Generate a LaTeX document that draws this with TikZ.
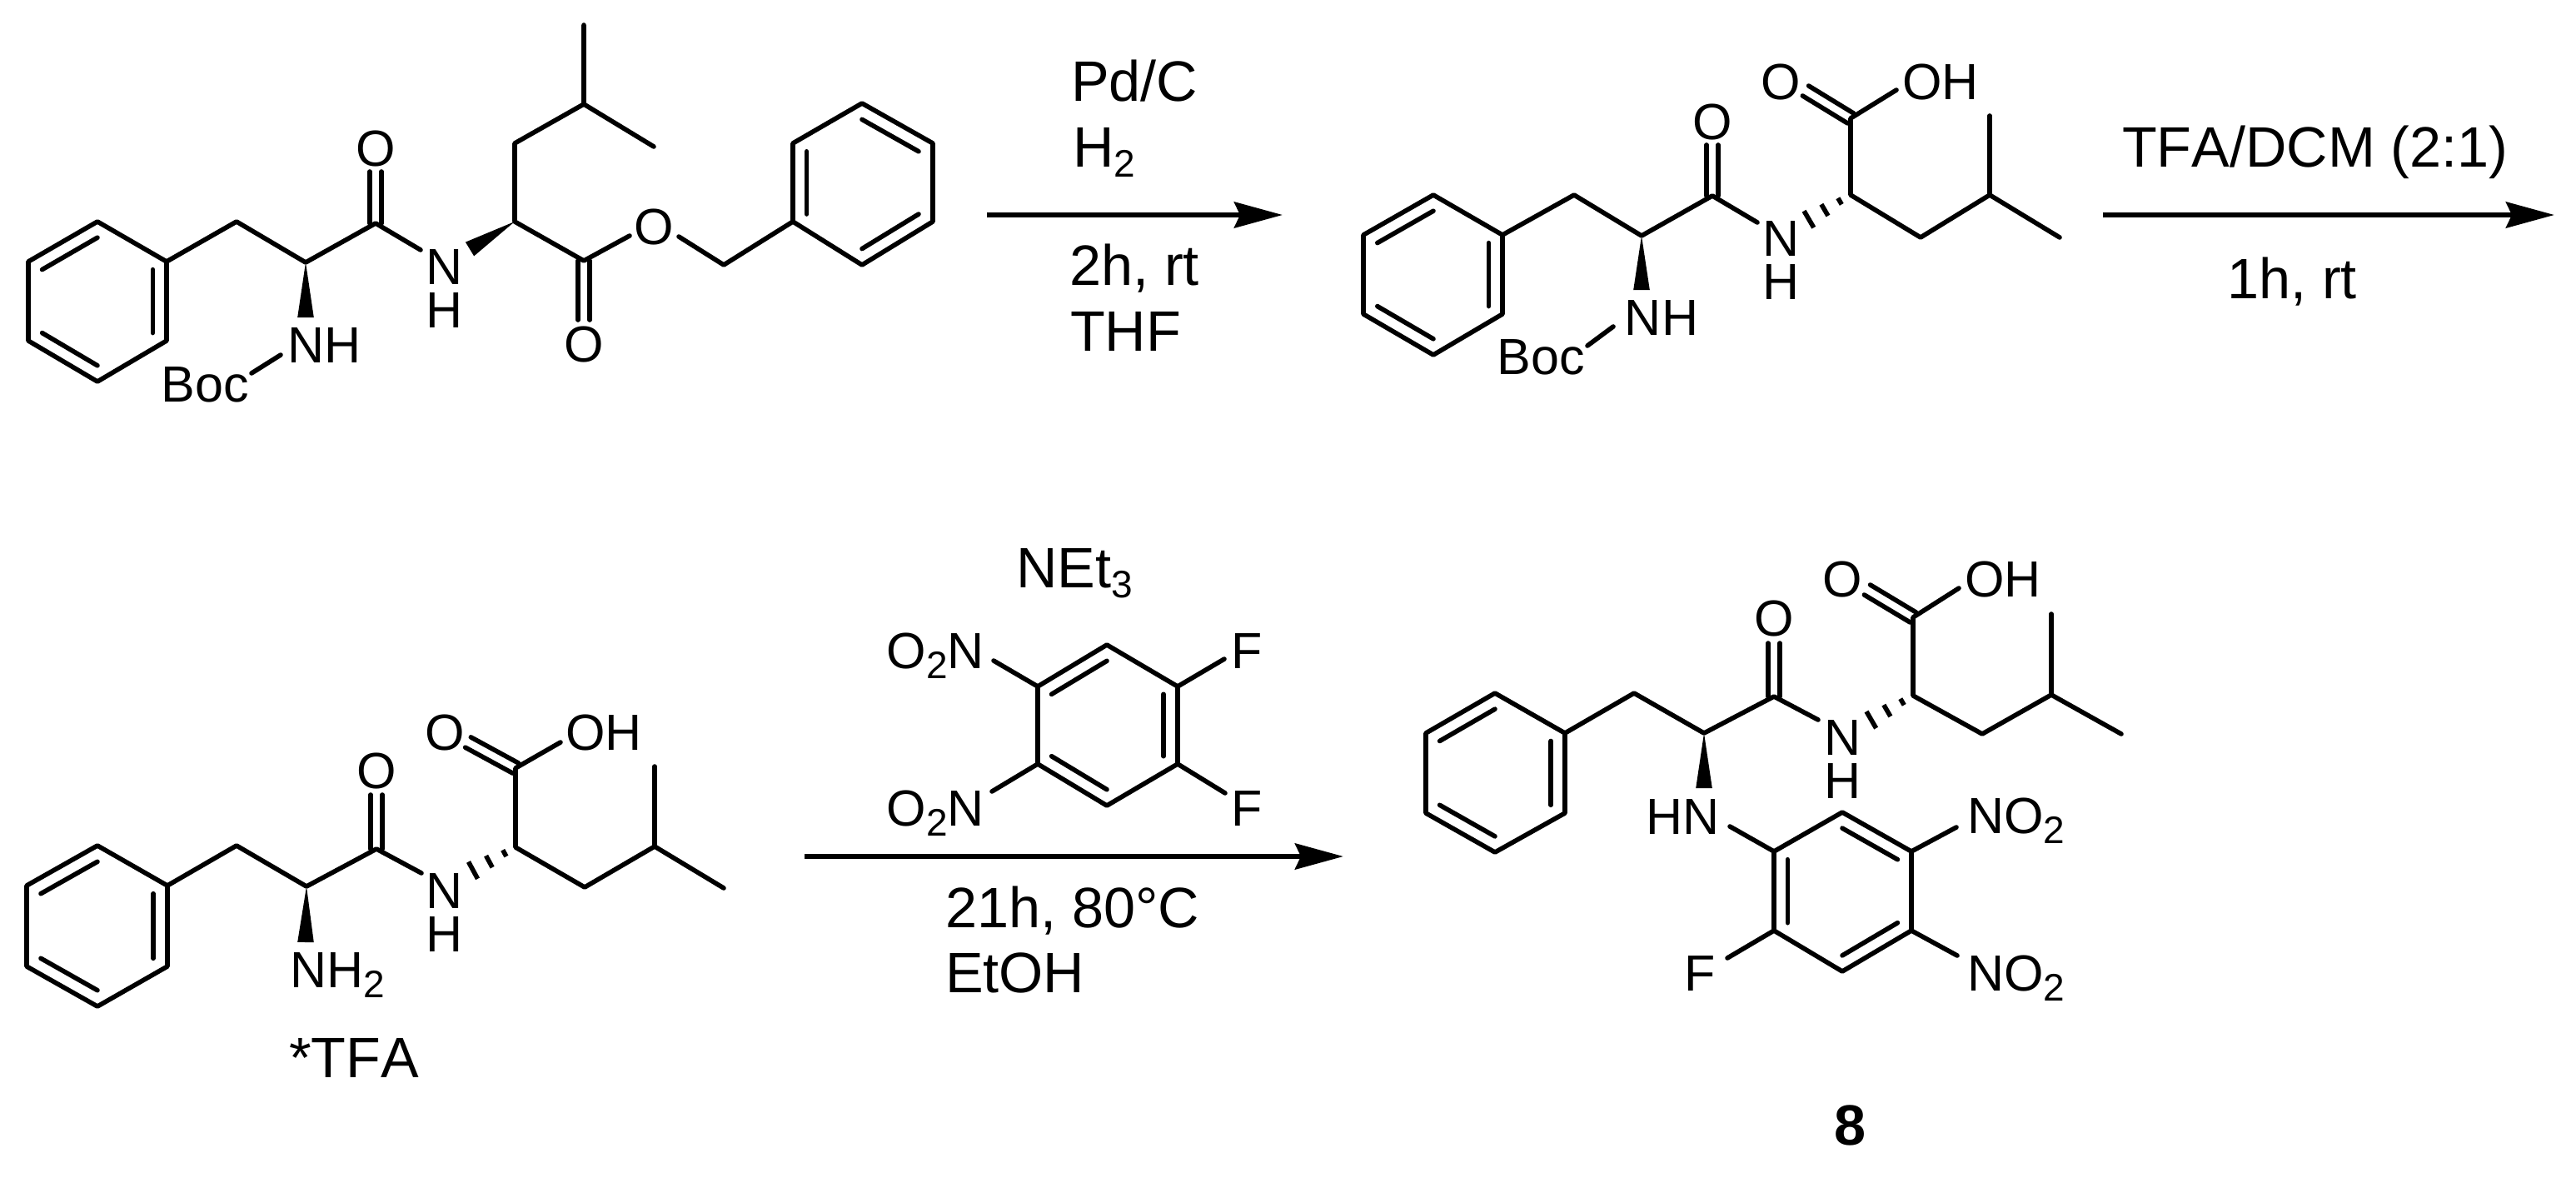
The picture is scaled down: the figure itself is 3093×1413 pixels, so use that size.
\documentclass[tikz,border=0pt]{standalone}
\usepackage{fontspec}
\setmainfont[Kerning=Off]{Liberation Sans}
\usetikzlibrary{calc,arrows.meta}
\newcommand\molfont{\fontsize{15.25pt}{13pt}\selectfont}
\newcommand\reafont{\fontsize{17.1pt}{18pt}\selectfont}
\newcommand\chsub[1]{\raisebox{-3.2pt}{\fontsize{11.5pt}{12pt}\selectfont #1}}
% bonds
\newcommand\bd[2]{\draw[bond] (#1) -- (#2);}
\newcommand\cdb[2]{\draw[bond] ($(#1)!1.75pt!90:(#2)$) -- ($(#2)!1.75pt!-90:(#1)$);
  \draw[bond] ($(#1)!1.75pt!-90:(#2)$) -- ($(#2)!1.75pt!90:(#1)$);}
\newcommand\rdb[3]{\draw[bond] ($(#1)!.8!(#2)$) -- ($(#1)!.8!(#3)$);}
\newcommand\wdg[2]{\fill ($(#2)!2.45pt!90:(#1)$) -- (#1) -- ($(#2)!2.45pt!-90:(#1)$) -- cycle;}
\newcommand\hsh[2]{%
  \draw[hashb] ($(#1)!3.75pt!(#2)!1.1pt!90:(#2)$) -- ($(#1)!3.75pt!(#2)!1.1pt!-90:(#2)$);
  \draw[hashb] ($(#1)!9pt!(#2)!2pt!90:(#2)$) -- ($(#1)!9pt!(#2)!2pt!-90:(#2)$);
  \draw[hashb] ($(#1)!14.5pt!(#2)!2.9pt!90:(#2)$) -- ($(#1)!14.5pt!(#2)!2.9pt!-90:(#2)$);}
\tikzset{
  bond/.style={line width=1.4pt,line cap=round,line join=round},
  hashb/.style={line width=1.4pt},
  rxn/.style={line width=1.6pt,-{Stealth[length=14.5pt,width=7.75pt,inset=1.75pt]}},
  atom/.style={inner sep=0pt,outer sep=0pt,anchor=base,font=\molfont},
  atomw/.style={atom,anchor=base west},
  atome/.style={atom,anchor=base east},
  nhstack/.style={atom,align=center},
  rea/.style={inner sep=0pt,outer sep=0pt,anchor=base west,font=\reafont},
}
\begin{document}
\begin{tikzpicture}[x=0.25pt,y=-0.25pt]
\useasboundingbox (0,0) rectangle (3093,1413);

%%% ---------- molecule 1 ----------
\path (117,266) coordinate (at) (34,314) coordinate (alt) (34,409) coordinate (alb)
      (117,458) coordinate (ab) (200,409) coordinate (arb) (200,314) coordinate (art)
      (284,266) coordinate (ach) (367,315) coordinate (aca) (451,268) coordinate (aco)
      (451,206) coordinate (aoe) (505,300) coordinate (ane) (618,266) coordinate (acb)
      (564,299) coordinate (awb) (367,381) coordinate (awa)
      (618,172) coordinate (ac2) (701,125) coordinate (ac3) (701,30) coordinate (am1)
      (785,176) coordinate (am2) (701,313) coordinate (aes) (701,384) coordinate (aeo)
      (756,283) coordinate (aoa) (815,284) coordinate (aob) (869,318) coordinate (abn)
      (952,266) coordinate (bbl) (952,172) coordinate (btl) (1035,124) coordinate (btt)
      (1120,172) coordinate (btr) (1120,266) coordinate (bbr) (1035,318) coordinate (bbb)
      (302,448) coordinate (abo) (337,426) coordinate (abn2);
\coordinate (ac) at ($(at)!.5!(ab)$);
\coordinate (bc) at ($(btt)!.5!(bbb)$);
\draw[bond] (at) -- (alt) -- (alb) -- (ab) -- (arb) -- (art) -- cycle;
\rdb{ac}{at}{alt}\rdb{ac}{art}{arb}\rdb{ac}{alb}{ab}
\draw[bond] (art) -- (ach) -- (aca) -- (aco) -- (ane);
\cdb{aco}{aoe}
\wdg{aca}{awa}\wdg{acb}{awb}
\draw[bond] (am1) -- (ac3) -- (am2);
\draw[bond] (ac3) -- (ac2) -- (acb) -- (aes) -- (aoa);
\cdb{aes}{aeo}
\draw[bond] (aob) -- (abn) -- (bbl);
\draw[bond] (bbl) -- (btl) -- (btt) -- (btr) -- (bbr) -- (bbb) -- cycle;
\rdb{bc}{bbl}{btl}\rdb{bc}{btt}{btr}\rdb{bc}{bbr}{bbb}
\bd{abo}{abn2}
\node[atom] (lao) at (451,199) {O};
\node[nhstack] (lan) at (534,393) {N\\H};
\node[atom] (laoe) at (701,434) {O};
\node[atom] (laoo) at (785,293) {O};
\node[atom] (lanh) at (390,435) {NH};
\node[atom] (laboc) at (246,482) {Boc};

%%% ---------- arrow 1 + reagents ----------
\coordinate (r1a) at (1185,258); \coordinate (r1b) at (1540,258);
\draw[rxn] (r1a) -- (r1b);
\node[rea] (tpd) at (1286,122) {Pd/C};
\node[rea] (th2) at (1288,200) {H\chsub{2}};
\node[rea] (t2h) at (1284,342) {2h, rt};
\node[rea] (tthf) at (1285,421) {THF};

%%% ---------- molecule 2 ----------
\path (1721,234) coordinate (ct) (1637,282) coordinate (clt) (1637,377) coordinate (clb)
      (1721,426) coordinate (cb) (1804,377) coordinate (crb) (1804,282) coordinate (crt)
      (1890,234) coordinate (cch) (1971,283) coordinate (cca) (2056,235) coordinate (cco)
      (2056,174) coordinate (coe) (2110,267) coordinate (cne) (2222,234) coordinate (ccb)
      (2222,142) coordinate (cac) (2168,109) coordinate (cao) (2277,108) coordinate (cah)
      (2306,285) coordinate (cc2) (2389,234) coordinate (cc3) (2389,139) coordinate (cm1)
      (2473,285) coordinate (cm2) (1971,348) coordinate (cwa) (2162,269) coordinate (chs)
      (1906,415) coordinate (cbo) (1937,392) coordinate (cbn);
\coordinate (cc) at ($(ct)!.5!(cb)$);
\draw[bond] (ct) -- (clt) -- (clb) -- (cb) -- (crb) -- (crt) -- cycle;
\rdb{cc}{ct}{clt}\rdb{cc}{crt}{crb}\rdb{cc}{clb}{cb}
\draw[bond] (crt) -- (cch) -- (cca) -- (cco) -- (cne);
\cdb{cco}{coe}
\wdg{cca}{cwa}\hsh{ccb}{chs}
\draw[bond] (cah) -- (cac) -- (ccb) -- (cc2) -- (cc3) -- (cm2);
\draw[bond] (cc3) -- (cm1);
\cdb{cac}{cao}
\bd{cbo}{cbn}
\node[atom] (lco) at (2056,167) {O};
\node[nhstack] (lcn) at (2138,359) {N\\H};
\node[atom] (lcoo) at (2138,119) {O};
\node[atomw] (lcoh) at (2284,119) {OH};
\node[atom] (lcnh) at (1995,402) {NH};
\node[atom] (lcboc) at (1850,449) {Boc};

%%% ---------- arrow 2 + reagents ----------
\coordinate (r2a) at (2525,258); \coordinate (r2b) at (3067,258);
\draw[rxn] (r2a) -- (r2b);
\node[rea] (ttfa) at (2548,200) {TFA/DCM (2:1)};
\node[rea] (t1h) at (2674,358) {1h, rt};

%%% ---------- molecule 3 ----------
\path (117,1015) coordinate (dt) (32,1063) coordinate (dlt) (32,1160) coordinate (dlb)
      (117,1208) coordinate (db) (201,1160) coordinate (drb) (201,1063) coordinate (drt)
      (284,1015) coordinate (dch) (368,1064) coordinate (dca) (452,1019) coordinate (dco)
      (452,954) coordinate (doe) (506,1048) coordinate (dne) (619,1017) coordinate (dcb)
      (619,922) coordinate (dac) (562,891) coordinate (dao) (673,891) coordinate (dah)
      (702,1065) coordinate (dc2) (786,1016) coordinate (dc3) (786,920) coordinate (dm1)
      (869,1066) coordinate (dm2) (367,1131) coordinate (dwa) (560,1049) coordinate (dhs);
\coordinate (dc) at ($(dt)!.5!(db)$);
\draw[bond] (dt) -- (dlt) -- (dlb) -- (db) -- (drb) -- (drt) -- cycle;
\rdb{dc}{dt}{dlt}\rdb{dc}{drt}{drb}\rdb{dc}{dlb}{db}
\draw[bond] (drt) -- (dch) -- (dca) -- (dco) -- (dne);
\cdb{dco}{doe}
\wdg{dca}{dwa}\hsh{dcb}{dhs}
\draw[bond] (dah) -- (dac) -- (dcb) -- (dc2) -- (dc3) -- (dm2);
\draw[bond] (dc3) -- (dm1);
\cdb{dac}{dao}
\node[atom] (ldo) at (452,946) {O};
\node[nhstack] (ldn) at (534,1142) {N\\H};
\node[atom] (ldoo) at (534,900) {O};
\node[atomw] (ldoh) at (679,900) {OH};
\node[atomw] (ldnh) at (348,1185) {NH\chsub{2}};
\node[rea] (ltfa) at (347,1293) {*TFA};

%%% ---------- arrow 3 + reagents ----------
\coordinate (r3a) at (966,1028); \coordinate (r3b) at (1613,1028);
\draw[rxn] (r3a) -- (r3b);
\node[rea] (tnet) at (1220,705) {NEt\chsub{3}};
\path (1329,774) coordinate (et) (1246,824) coordinate (elt) (1246,917) coordinate (elb)
      (1329,967) coordinate (eb) (1414,917) coordinate (erb) (1414,824) coordinate (ert)
      (1193,793) coordinate (eno1) (1191,950) coordinate (eno2)
      (1470,791) coordinate (ef1) (1471,952) coordinate (ef2);
\coordinate (ec) at ($(et)!.5!(eb)$);
\draw[bond] (et) -- (elt) -- (elb) -- (eb) -- (erb) -- (ert) -- cycle;
\rdb{ec}{et}{elt}\rdb{ec}{ert}{erb}\rdb{ec}{elb}{eb}
\bd{elt}{eno1}\bd{elb}{eno2}\bd{ert}{ef1}\bd{erb}{ef2}
\node[atome] (leno1) at (1182,802) {O\chsub{2}N};
\node[atome] (leno2) at (1182,991) {O\chsub{2}N};
\node[atomw] (lef1) at (1478,802) {F};
\node[atomw] (lef2) at (1478,991) {F};
\node[rea] (t21) at (1135,1113) {21h, 80°C};
\node[rea] (tetoh) at (1135,1191) {EtOH};

%%% ---------- molecule 4 ----------
\path (1795,832) coordinate (ft) (1712,880) coordinate (flt) (1712,976) coordinate (flb)
      (1795,1023) coordinate (fb) (1879,976) coordinate (frb) (1879,880) coordinate (frt)
      (1962,832) coordinate (fch) (2046,880) coordinate (fca) (2130,836) coordinate (fco)
      (2130,772) coordinate (foe) (2183,864) coordinate (fne) (2297,835) coordinate (fcb)
      (2297,741) coordinate (fac) (2242,708) coordinate (fao) (2352,706) coordinate (fah)
      (2380,881) coordinate (fc2) (2463,834) coordinate (fc3) (2463,737) coordinate (fm1)
      (2547,881) coordinate (fm2) (2046,946) coordinate (fwa) (2240,868) coordinate (fhs)
      (2130,1022) coordinate (glt) (2212,975) coordinate (gt) (2295,1022) coordinate (grt)
      (2295,1117) coordinate (grb) (2212,1166) coordinate (gb) (2130,1117) coordinate (glb)
      (2077,992) coordinate (ghn) (2074,1150) coordinate (gf)
      (2349,993) coordinate (gn1) (2350,1147) coordinate (gn2);
\coordinate (fc) at ($(ft)!.5!(fb)$);
\coordinate (gc) at ($(gt)!.5!(gb)$);
\draw[bond] (ft) -- (flt) -- (flb) -- (fb) -- (frb) -- (frt) -- cycle;
\rdb{fc}{ft}{flt}\rdb{fc}{frt}{frb}\rdb{fc}{flb}{fb}
\draw[bond] (frt) -- (fch) -- (fca) -- (fco) -- (fne);
\cdb{fco}{foe}
\wdg{fca}{fwa}\hsh{fcb}{fhs}
\draw[bond] (fah) -- (fac) -- (fcb) -- (fc2) -- (fc3) -- (fm2);
\draw[bond] (fc3) -- (fm1);
\cdb{fac}{fao}
\draw[bond] (glt) -- (gt) -- (grt) -- (grb) -- (gb) -- (glb) -- cycle;
\rdb{gc}{gt}{grt}\rdb{gc}{grb}{gb}\rdb{gc}{glb}{glt}
\bd{glt}{ghn}\bd{glb}{gf}\bd{grt}{gn1}\bd{grb}{gn2}
\node[atom] (lfo) at (2130,763) {O};
\node[nhstack] (lfn) at (2212,958) {N\\H};
\node[atom] (lfoo) at (2212,716) {O};
\node[atomw] (lfoh) at (2359,716) {OH};
\node[atome] (lfhn) at (2065,1001) {HN};
\node[atome] (lff) at (2060,1189) {F};
\node[atomw] (lfn1) at (2362,1000) {NO\chsub{2}};
\node[atomw] (lfn2) at (2362,1189) {NO\chsub{2}};
\node[inner sep=0pt,outer sep=0pt,anchor=base,font=\reafont\bfseries] (lf8) at (2221,1374) {8};
\end{tikzpicture}
\end{document}
